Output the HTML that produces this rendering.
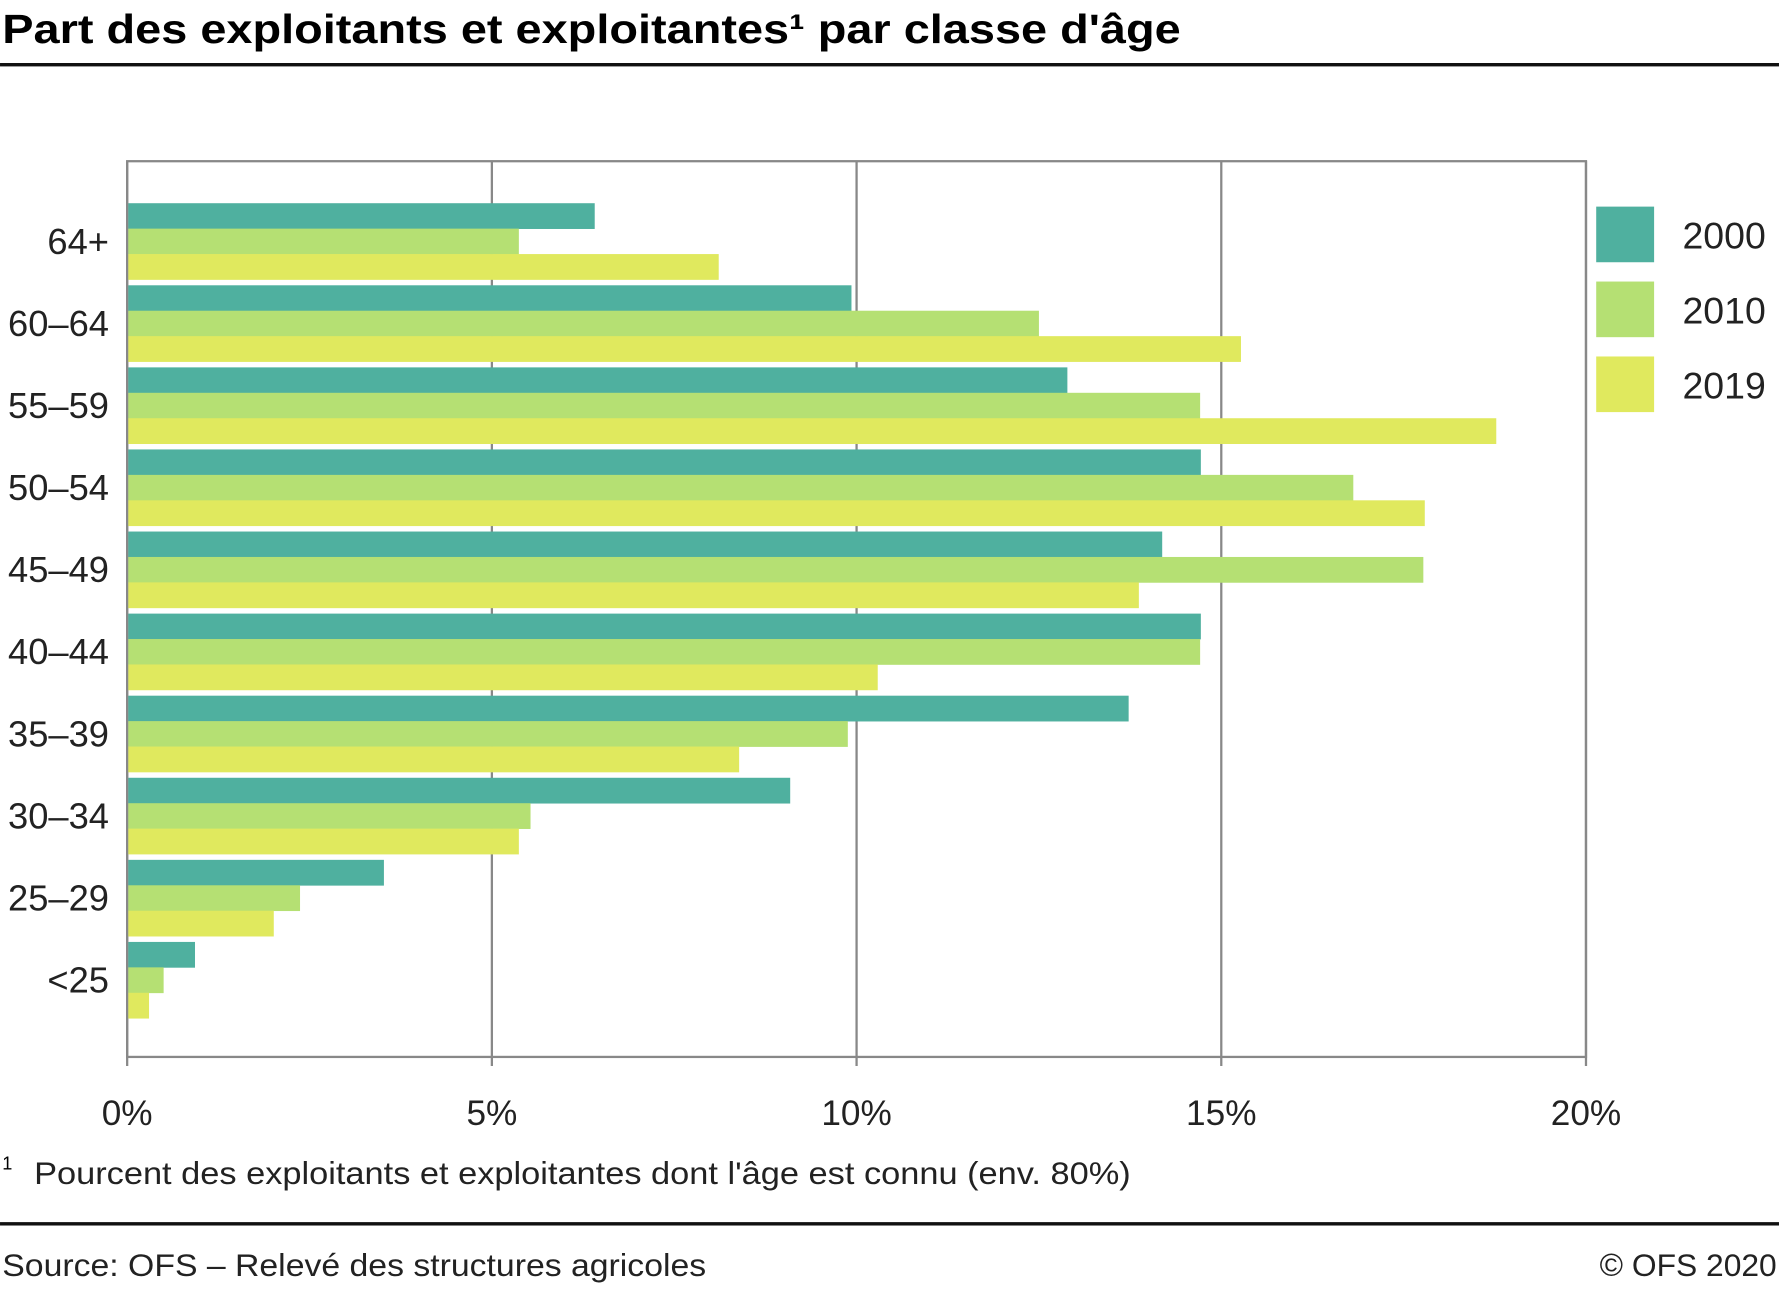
<!DOCTYPE html>
<html><head><meta charset="utf-8"><style>
html,body{margin:0;padding:0;background:#fff}
svg{display:block;font-family:"Liberation Sans",sans-serif}
</style></head><body>
<svg id="c" width="1779" height="1295" viewBox="0 0 1567 1140.7">
<text x="2" y="38" font-size="36" font-weight="bold" textLength="1038" lengthAdjust="spacingAndGlyphs">Part des exploitants et exploitantes¹ par classe d'âge</text>
<rect x="0" y="55.5" width="1567" height="3" fill="#111"/>
<g id="grid"></g>
<g id="bars"></g>
<g id="legend"></g>
<text x="2" y="1030" font-size="16">1</text>
<text x="30" y="1043" font-size="28" fill="#222" textLength="966" lengthAdjust="spacingAndGlyphs">Pourcent des exploitants et exploitantes dont l'âge est connu (env. 80%)</text>
<rect x="0" y="1076.5" width="1567" height="3" fill="#111"/>
<text x="2" y="1124" font-size="28" fill="#222" textLength="620" lengthAdjust="spacingAndGlyphs">Source: OFS – Relevé des structures agricoles</text>
<text x="1565" y="1124" font-size="28" fill="#222" text-anchor="end">© OFS 2020</text>
</svg>
<script>
const categories=["64+","60–64","55–59","50–54","45–49","40–44","35–39","30–34","25–29","<25"];
const v2000=[6.41,9.93,12.89,14.72,14.19,14.72,13.73,9.09,3.52,0.93];
const v2010=[5.37,12.5,14.71,16.81,17.77,14.71,9.88,5.53,2.37,0.5];
const v2019=[8.11,15.27,18.77,17.79,13.87,10.29,8.39,5.37,2.01,0.3];
const ticks=[0,5,10,15,20];
const tickLabels=["0%","5%","10%","15%","20%"];
const seriesNames=["2000","2010","2019"];
const colors=["#4fb09f","#b5e073","#e0e95e"];
const NS="http://www.w3.org/2000/svg";
const L=112,R=1397,T=142,B=931;
const x=v=>L+(v-0)/(20-0)*(R-L);
const band=(B-T)/categories.length*0.9175;
const y0=179;
const step=72.3;
const bh=22.4;
function mk(tag,attrs,parent){const e=document.createElementNS(NS,tag);for(const k in attrs)e.setAttribute(k,attrs[k]);parent.appendChild(e);return e;}
const grid=document.getElementById('grid');
const f=mk('rect',{x:L,y:T,width:R-L,height:B-T,fill:'none',stroke:'#888','stroke-width':2},grid);


ticks.forEach((t,i)=>{
  const l=mk('line',{x1:x(t),x2:x(t),y1:T,y2:B+8,stroke:'#888','stroke-width':2},grid);
  
  
  const tx=mk('text',{x:x(t),y:991,'font-size':31,'text-anchor':'middle',fill:'#222'},grid);
  tx.textContent=tickLabels[i];
  
  
});
const bars=document.getElementById('bars');
const series=[v2000,v2010,v2019];
categories.forEach((c,i)=>{
  const gy=y0+i*step;
  series.forEach((s,j)=>{
    const r=mk('rect',{x:L+1,y:gy+j*bh,width:x(s[i])-L-1,height:bh+0.3,fill:colors[j]},bars);
    
    
  });
  const t=mk('text',{x:96,y:gy+bh*1.5+11,'font-size':32,'text-anchor':'end',fill:'#222'},bars);
  t.textContent=c;
  
  
});
const lg=document.getElementById('legend');
seriesNames.forEach((n,j)=>{
  const r=mk('rect',{x:1406,y:182+j*66,width:51,height:49,fill:colors[j]},lg);
  
  
  const t=mk('text',{x:1482,y:219+j*66,'font-size':33,fill:'#222'},lg);
  t.textContent=n;
  
  
});
</script>
</body></html>
